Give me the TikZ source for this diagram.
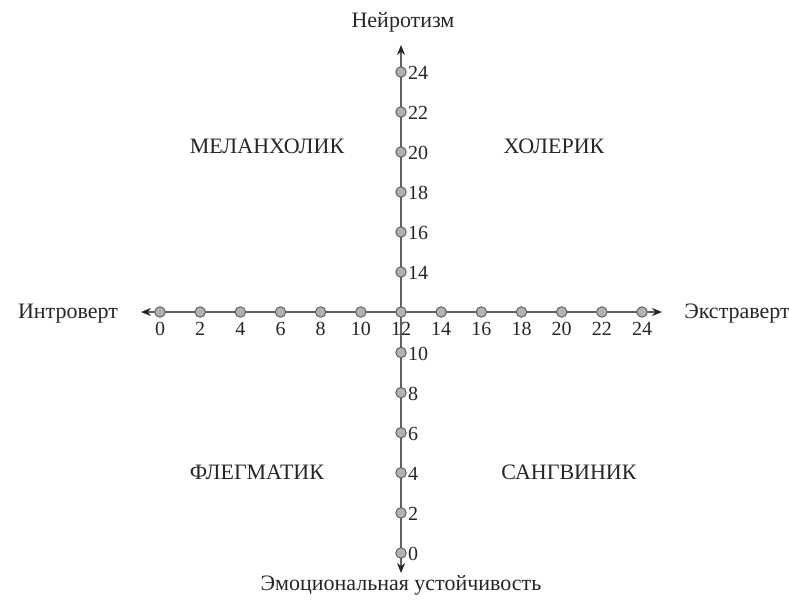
\documentclass[tikz,border=0pt]{standalone}
\usepackage{fontspec}
\setmainfont{Liberation Serif}
\usetikzlibrary{arrows.meta}
\begin{document}
\begin{tikzpicture}[x=1pt,y=-1pt,
  axis/.style={draw=black!62,line width=1.3pt,-{Stealth[length=10pt,width=8pt,fill=black!85,color=black!85]}},
  dot/.style={circle,draw=black!65,fill=black!30,line width=0.9pt,minimum size=10.5pt,inner sep=0pt},
  lbl/.style={font=\fontsize{20}{22}\selectfont,text=black!85,inner sep=1pt},
  wlbl/.style={font=\fontsize{22}{24}\selectfont,text=black!85,inner sep=1pt},
  qlbl/.style={font=\fontsize{22}{24}\selectfont,text=black!85}]
\useasboundingbox (0,0) rectangle (789,600);
\coordinate (c) at (401,312);
\coordinate (L) at (141,312);
\coordinate (R) at (662,312);
\coordinate (T) at (401,45);
\coordinate (B) at (401,573);
\draw[axis] (c) -- (L);
\draw[axis] (c) -- (R);
\draw[axis] (c) -- (T);
\draw[axis] (c) -- (B);
% horizontal dots
\foreach \v in {0,2,...,24}{
  \pgfmathsetmacro\xx{160+\v*40.17/2}
  \node[dot] (h\v) at (\xx,312) {};
  \node[lbl,anchor=north] (hl\v) at (\xx,321) {\v};
}
% vertical dots
\foreach \v in {14,16,...,24}{
  \pgfmathsetmacro\yy{312-(\v-12)*40/2}
  \node[dot] (vu\v) at (401,\yy) {};
  \node[lbl,anchor=west] (vul\v) at (407,\yy+1) {\v};
}
\foreach \v in {0,2,...,10}{
  \pgfmathsetmacro\yy{553-\v*40.1/2}
  \node[dot] (vd\v) at (401,\yy) {};
  \node[lbl,anchor=west] (vdl\v) at (407,\yy+1) {\v};
}
\node[wlbl] (top) at (403,22) {Нейротизм};
\node[wlbl] (bot) at (401,585) {Эмоциональная устойчивость};
\node[wlbl] (left) at (68,314) {Интроверт};
\node[wlbl] (right) at (737,314) {Экстраверт};
\node[qlbl] (q1) at (267,146) {МЕЛАНХОЛИК};
\node[qlbl] (q2) at (554,146) {ХОЛЕРИК};
\node[qlbl] (q3) at (257,472) {ФЛЕГМАТИК};
\node[qlbl] (q4) at (569,472) {САНГВИНИК};
\end{tikzpicture}
\end{document}
